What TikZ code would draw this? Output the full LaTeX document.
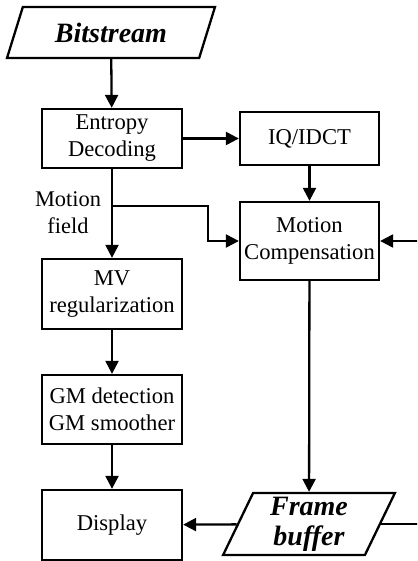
\documentclass[tikz,border=0pt]{standalone}
\usepackage{fontspec}
\setmainfont{Liberation Serif}
\usetikzlibrary{shapes.geometric,arrows.meta}
\begin{document}
\begin{tikzpicture}[x=1pt,y=-1pt,
  box/.style={draw,line width=2.3pt,align=center,inner sep=0pt,
    font=\fontsize{22.6}{27}\selectfont},
  store/.style={draw,line width=2.3pt,trapezium,trapezium stretches=true,
    align=center,inner sep=0pt,font=\fontsize{28}{30}\selectfont\bfseries\itshape},
  flow/.style={line width=2.3pt,-{Triangle[length=13pt,width=13pt]}},
  label/.style={align=center,inner sep=0pt,font=\fontsize{22.4}{27}\selectfont}]
  \fill[white] (0,0) rectangle (417,561);
  \useasboundingbox (0,0) rectangle (417,561);
  \clip (0,0) rectangle (417,561);

  % data stores
  \node[store,minimum width=208pt,minimum height=51pt,
    trapezium left angle=63,trapezium right angle=117] (bit) at (111,32.5) {Bitstream};
  \node[store,minimum width=172pt,minimum height=62pt,
    trapezium left angle=69,trapezium right angle=111] (fb) at (309,524) {Frame\\buffer};

  % processing blocks
  \node[box,minimum width=140pt,minimum height=59pt] (ent) at (112,138.5) {Entropy\\Decoding};
  \node[box,minimum width=139pt,minimum height=53pt] (iq) at (309.5,138.5) {IQ/IDCT};
  \node[box,minimum width=139pt,minimum height=78pt] (mc) at (309.5,241) {Motion\\Compensation};
  \node[box,minimum width=140pt,minimum height=70pt] (mv) at (112,294) {MV\\regularization};
  \node[box,minimum width=140pt,minimum height=69pt] (gm) at (112,409.5) {GM detection\\GM smoother};
  \node[box,minimum width=140pt,minimum height=70pt] (disp) at (112,525) {Display};

  \node[label] (mf) at (68,213) {Motion\\field};

  % connectors
  \draw[flow] (bit) -- (ent);
  \draw[flow] (ent) -- (iq);
  \draw[flow] (iq) -- (mc);
  \draw[flow] (ent) -- (mv);
  \coordinate (tap) at (112,206);
  \coordinate (bend) at (208,206);
  \draw[flow] (tap) -- (bend) |- (mc);
  \draw[flow] (mv) -- (gm);
  \draw[flow] (gm) -- (disp);
  \draw[flow] (mc) -- (fb);
  \draw[flow] (fb) -- (disp);
  \draw[flow] (fb.east) -- ++(50,0) |- (mc.east);
\end{tikzpicture}
\end{document}
